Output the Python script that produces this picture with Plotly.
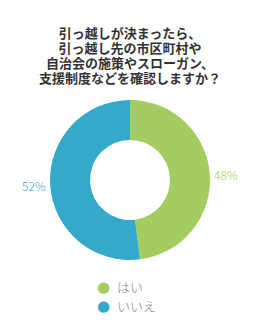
import plotly.graph_objects as go

labels = ["はい", "いいえ"]
values = [48, 52]
colors = ["#a3cd61", "#35a9c9"]
title_lines = ["引っ越しが決まったら、", "引っ越し先の市区町村や", "自治会の施策やスローガン、", "支援制度などを確認しますか？"]

W, H = 260, 320
fig = go.Figure()
fig.add_trace(go.Pie(
    labels=labels, values=values, hole=0.5, sort=False, direction="clockwise",
    rotation=0, marker=dict(colors=colors, line=dict(width=0)),
    textposition="outside",
    texttemplate="%{value}%",
    outsidetextfont=dict(color=colors, size=12, family="Noto Sans CJK JP", weight=300),
    domain=dict(x=[50/W, 210/W], y=[1-260/H, 1-100/H]),
    showlegend=False, automargin=False,
))

# title: outer font size sets the line spacing, inner span sets glyph size
title_text = "<br>".join(f"<span style='font-size:13px'>{l}</span>" for l in title_lines)
annotations = [dict(
    text=title_text, x=0.5, y=1-55/H, xref="paper", yref="paper",
    xanchor="center", yanchor="middle", showarrow=False, align="center",
    font=dict(family="Noto Sans CJK JP", size=11.5, color="#333333", weight="bold"))]
# legend
for i, (lab, col) in enumerate(zip(labels, colors)):
    yc = 1-(286.5+19*i)/H
    annotations.append(dict(
        text="●", x=103/W, y=yc, xref="paper", yref="paper",
        xanchor="center", yanchor="middle", showarrow=False,
        font=dict(family="DejaVu Sans", size=15, color=col)))
    annotations.append(dict(
        text=lab, x=115/W, y=yc, xref="paper", yref="paper",
        xanchor="left", yanchor="middle", showarrow=False,
        font=dict(family="Noto Sans CJK JP", size=13, color="#888888", weight=300)))

fig.update_layout(
    width=W, height=H, margin=dict(l=0, r=0, t=0, b=0),
    paper_bgcolor="white", plot_bgcolor="white",
    annotations=annotations,
)
fig.write_html("out.html")
